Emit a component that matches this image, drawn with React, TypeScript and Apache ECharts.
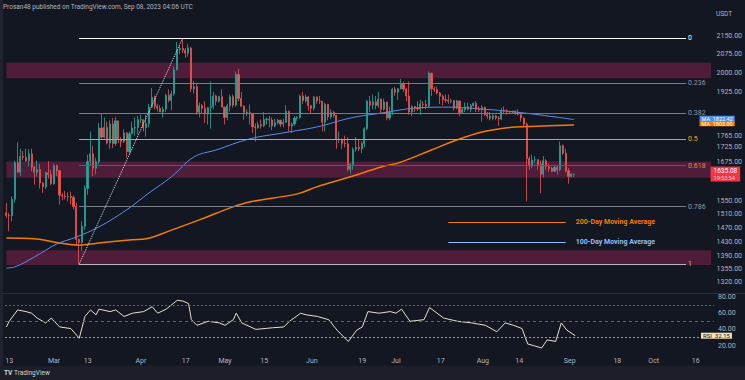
import React, { useEffect, useRef } from "react";
import * as echarts from "echarts";

// ---------- categories (daily, 2023) ----------
const START_MONTH = 1; // February (0-based)
const START_DAY = 12;
const DAY_COUNT = 253;

// ---------- daily candles from Feb 12: [open, high, low, close] ----------
const candles: [number, number, number, number][] = [
  // Feb 12 - 28
  [1515, 1545, 1500, 1507], [1507, 1515, 1461, 1506], [1506, 1565, 1490, 1556], [1556, 1680, 1546, 1673],
  [1673, 1742, 1640, 1642], [1642, 1720, 1630, 1694], [1694, 1712, 1681, 1691], [1691, 1720, 1675, 1680],
  [1680, 1719, 1661, 1703], [1703, 1720, 1645, 1659], [1659, 1662, 1602, 1642], [1642, 1680, 1627, 1651],
  [1651, 1669, 1590, 1607], [1607, 1611, 1576, 1595], [1595, 1644, 1588, 1640], [1640, 1678, 1621, 1634],
  [1634, 1650, 1600, 1605],
  // Mar
  [1605, 1670, 1601, 1663], [1663, 1667, 1630, 1647], [1647, 1648, 1540, 1569], [1569, 1575, 1553, 1566],
  [1566, 1582, 1556, 1564], [1564, 1578, 1550, 1565], [1565, 1580, 1540, 1562], [1562, 1568, 1525, 1534],
  [1534, 1545, 1420, 1437], [1437, 1440, 1368, 1429], [1429, 1490, 1405, 1475], [1475, 1600, 1465, 1590],
  [1590, 1700, 1570, 1677], [1677, 1780, 1662, 1703], [1703, 1730, 1630, 1655], [1655, 1690, 1635, 1677],
  [1677, 1810, 1668, 1792], [1792, 1843, 1755, 1760], [1760, 1830, 1755, 1795], [1795, 1815, 1735, 1740],
  [1740, 1820, 1720, 1807], [1807, 1828, 1722, 1738], [1738, 1832, 1730, 1818], [1818, 1818, 1740, 1752],
  [1752, 1760, 1725, 1745], [1745, 1788, 1740, 1775], [1775, 1778, 1690, 1710], [1710, 1780, 1700, 1772],
  [1772, 1815, 1770, 1792], [1792, 1830, 1765, 1794], [1794, 1835, 1770, 1822],
  // Apr
  [1822, 1840, 1810, 1822], [1822, 1822, 1780, 1793], [1793, 1840, 1762, 1808], [1808, 1880, 1795, 1868],
  [1868, 1940, 1866, 1905], [1905, 1912, 1860, 1871], [1871, 1880, 1852, 1864], [1864, 1875, 1850, 1850],
  [1850, 1870, 1830, 1860], [1860, 1918, 1850, 1912], [1912, 1935, 1886, 1893], [1893, 1930, 1856, 1918],
  [1918, 2025, 1910, 2011], [2011, 2125, 2010, 2094], [2094, 2110, 2075, 2099], [2099, 2141, 2080, 2091],
  [2091, 2100, 2060, 2079], [2079, 2117, 2065, 2100], [2100, 2105, 1925, 1937], [1937, 1968, 1920, 1945],
  [1945, 1960, 1840, 1849], [1849, 1885, 1830, 1873], [1873, 1880, 1845, 1864], [1864, 1890, 1810, 1843],
  [1843, 1868, 1805, 1866], [1866, 1965, 1790, 1870], [1870, 1925, 1860, 1910], [1910, 1915, 1875, 1890],
  [1890, 1910, 1885, 1907], [1907, 1935, 1868, 1868],
  // May
  [1868, 1870, 1805, 1830], [1830, 1880, 1820, 1873], [1873, 1915, 1852, 1907], [1907, 1915, 1866, 1876],
  [1876, 2005, 1870, 1993], [1993, 2015, 1890, 1900], [1900, 1925, 1870, 1871], [1871, 1875, 1822, 1848],
  [1848, 1860, 1835, 1849], [1849, 1878, 1805, 1843], [1843, 1845, 1775, 1797], [1797, 1808, 1745, 1793],
  [1793, 1815, 1790, 1804], [1804, 1823, 1790, 1800], [1800, 1850, 1795, 1823], [1823, 1830, 1805, 1824],
  [1824, 1835, 1795, 1821], [1821, 1830, 1785, 1800], [1800, 1825, 1795, 1811], [1811, 1825, 1805, 1820],
  [1820, 1822, 1796, 1806], [1806, 1825, 1795, 1813], [1813, 1875, 1810, 1853], [1853, 1855, 1780, 1799],
  [1799, 1812, 1775, 1807], [1807, 1835, 1800, 1828], [1828, 1835, 1818, 1830], [1830, 1915, 1825, 1910],
  [1910, 1925, 1880, 1892], [1892, 1915, 1885, 1906], [1906, 1910, 1855, 1873],
  // Jun
  [1873, 1875, 1845, 1864], [1864, 1910, 1855, 1906], [1906, 1908, 1880, 1891], [1891, 1910, 1880, 1890],
  [1890, 1890, 1780, 1813], [1813, 1885, 1780, 1878], [1878, 1880, 1820, 1833], [1833, 1860, 1825, 1848],
  [1848, 1855, 1830, 1838], [1838, 1840, 1720, 1752], [1752, 1780, 1740, 1752], [1752, 1755, 1720, 1739],
  [1739, 1765, 1725, 1737], [1737, 1760, 1645, 1652], [1652, 1672, 1638, 1667], [1667, 1725, 1650, 1718],
  [1718, 1760, 1710, 1725], [1725, 1750, 1712, 1720], [1720, 1745, 1705, 1738], [1738, 1795, 1725, 1790],
  [1790, 1895, 1785, 1890], [1890, 1910, 1850, 1875], [1875, 1915, 1860, 1888], [1888, 1910, 1860, 1874],
  [1874, 1925, 1865, 1898], [1898, 1900, 1845, 1860], [1860, 1900, 1855, 1887], [1887, 1888, 1820, 1828],
  [1828, 1870, 1820, 1850], [1850, 1940, 1840, 1935],
  // Jul
  [1935, 1945, 1910, 1924], [1924, 1940, 1895, 1937], [1937, 1975, 1935, 1955], [1955, 1965, 1925, 1936],
  [1936, 1940, 1890, 1910], [1910, 1965, 1840, 1850], [1850, 1875, 1835, 1870], [1870, 1872, 1850, 1866],
  [1866, 1890, 1855, 1861], [1861, 1895, 1840, 1880], [1880, 1890, 1862, 1878], [1878, 1895, 1860, 1872],
  [1872, 2005, 1865, 1998], [1998, 2000, 1910, 1937], [1937, 1945, 1925, 1933], [1933, 1945, 1915, 1921],
  [1921, 1925, 1880, 1909], [1909, 1915, 1875, 1896], [1896, 1915, 1885, 1894], [1894, 1915, 1880, 1890],
  [1890, 1900, 1882, 1892], [1892, 1895, 1855, 1864], [1864, 1895, 1860, 1891], [1891, 1892, 1835, 1848],
  [1848, 1865, 1845, 1859], [1859, 1885, 1850, 1869], [1869, 1885, 1855, 1860], [1860, 1880, 1850, 1873],
  [1873, 1885, 1870, 1882], [1882, 1890, 1850, 1860], [1860, 1870, 1850, 1857],
  // Aug
  [1857, 1875, 1815, 1868], [1868, 1870, 1835, 1840], [1840, 1850, 1825, 1835], [1835, 1850, 1820, 1827],
  [1827, 1842, 1820, 1836], [1836, 1840, 1822, 1828], [1828, 1835, 1800, 1825], [1825, 1865, 1820, 1855],
  [1855, 1870, 1842, 1853], [1853, 1860, 1840, 1851], [1851, 1855, 1843, 1850], [1850, 1855, 1845, 1853],
  [1853, 1856, 1840, 1846], [1846, 1860, 1838, 1841], [1841, 1845, 1815, 1828], [1828, 1830, 1800, 1806],
  [1806, 1812, 1550, 1687], [1687, 1695, 1650, 1662], [1662, 1700, 1655, 1682], [1682, 1695, 1673, 1683],
  [1683, 1685, 1650, 1668], [1668, 1680, 1575, 1635], [1635, 1695, 1625, 1680], [1680, 1685, 1650, 1660],
  [1660, 1670, 1643, 1654], [1654, 1660, 1642, 1645], [1645, 1662, 1642, 1658], [1658, 1662, 1635, 1650],
  [1650, 1745, 1645, 1730], [1730, 1735, 1700, 1705], [1705, 1720, 1640, 1647],
  // Sep
  [1647, 1655, 1605, 1628], [1628, 1640, 1625, 1635], [1635, 1638, 1625, 1635.08],
];

// ---------- moving averages ----------
const ma100: [string, number][] = [
  ["02-12", 1358], ["02-15", 1361], ["02-22", 1388], ["03-02", 1424], ["03-09", 1444], ["03-17", 1473],
  ["03-27", 1524], ["04-04", 1576], ["04-12", 1627], ["04-20", 1692], ["04-28", 1716], ["05-10", 1754],
  ["05-22", 1775], ["06-03", 1796], ["06-15", 1828], ["06-26", 1846], ["07-09", 1865], ["07-20", 1868],
  ["08-01", 1861], ["08-13", 1850], ["08-25", 1835], ["09-03", 1822.42],
];
const ma200: [string, number][] = [
  ["02-12", 1441], ["02-22", 1439], ["03-03", 1427], ["03-10", 1421], ["03-17", 1427], ["03-29", 1436],
  ["04-03", 1439], ["04-12", 1464], ["04-22", 1494], ["05-04", 1533], ["05-10", 1548], ["05-27", 1573],
  ["06-03", 1595], ["06-15", 1627], ["06-26", 1659], ["07-03", 1675], ["07-14", 1716], ["07-23", 1750],
  ["08-01", 1778], ["08-07", 1789], ["08-13", 1796], ["08-25", 1800], ["09-03", 1803],
];

// ---------- RSI ----------
const rsi: [string, number][] = [
  ["02-12", 43], ["02-13", 50], ["02-16", 64], ["02-19", 62], ["02-21", 60], ["02-23", 54], ["02-26", 48],
  ["02-28", 54], ["03-03", 43], ["03-07", 41], ["03-10", 29], ["03-12", 56], ["03-14", 64], ["03-16", 58],
  ["03-17", 65], ["03-21", 62], ["03-23", 64], ["03-26", 56], ["03-29", 60], ["04-02", 62], ["04-05", 68],
  ["04-07", 60], ["04-10", 65], ["04-14", 76], ["04-16", 75], ["04-18", 72], ["04-19", 52], ["04-21", 45],
  ["04-25", 50], ["04-29", 48], ["05-01", 45], ["05-04", 52], ["05-05", 60], ["05-07", 48], ["05-12", 40],
  ["05-18", 42], ["05-22", 43], ["05-24", 50], ["05-28", 60], ["05-30", 58], ["06-03", 56], ["06-07", 52],
  ["06-10", 39], ["06-14", 25], ["06-17", 39], ["06-19", 43], ["06-21", 62], ["06-25", 60], ["06-29", 62],
  ["07-01", 60], ["07-03", 65], ["07-06", 50], ["07-11", 52], ["07-13", 67], ["07-18", 54], ["07-23", 50],
  ["07-28", 48], ["08-02", 45], ["08-06", 37], ["08-09", 48], ["08-12", 45], ["08-15", 41], ["08-17", 22],
  ["08-19", 20], ["08-22", 17], ["08-24", 27], ["08-27", 25], ["08-29", 48], ["08-31", 39], ["09-03", 32.15],
];

// ---------- levels ----------
const fibLowDate = "03-10";
const fibHighDate = "04-16";
const fibEndDate = "10-13";
const fibLow = 1368;
const fibHigh = 2141;
const fibRatios = [0, 0.236, 0.382, 0.5, 0.618, 0.786, 1];
const fibColors = ["#ffffff", "#787b86", "#787b86", "#f39c12", "#a8431a", "#787b86", "#b2b5be"];
const fibLabelColors = ["#ffffff", "#9598a1", "#9598a1", "#f5a623", "#f08c35", "#9598a1", "#b2b5be"];
const zones: [number, number][] = [[1978, 2040], [1624, 1677], [1366, 1407]];
const lastPrice = 1635.08;
const lastRsi = 32.15;

// ---------- annotations ----------
const legendStart = "07-20";
const legendEnd = "08-31";
const legend200Price = 1487;
const legend100Price = 1430;

// ---------- axis ticks ----------
const priceMin = 1292.4;
const priceMax = 2211.3;
const priceTicks = [2150, 2075, 2000, 1925, 1765, 1725, 1675, 1550, 1510, 1470, 1430, 1390, 1355, 1320];
const rsiTicks = [20, 40, 60, 80];
const xTickDates = ["02-13", "03-01", "03-13", "04-01", "04-17", "05-01", "05-15", "06-01", "06-19", "07-01", "07-17", "08-01", "08-14", "09-01", "09-18", "10-01", "10-16"];
const xTickLabels = ["13", "Mar", "13", "Apr", "17", "May", "15", "Jun", "19", "Jul", "17", "Aug", "14", "Sep", "18", "Oct", "16"];

const FONT = "Roboto, 'Liberation Sans', sans-serif";
const L = Math.log;
const HIDDEN_LINE = { color: "rgba(0,0,0,0)", width: 0 };

function pad(n: number) {
  return String(n).padStart(2, "0");
}

function buildOption() {
  const cats: string[] = [];
  for (let i = 0; i < DAY_COUNT; i++) {
    const d = new Date(Date.UTC(2023, START_MONTH, START_DAY + i));
    cats.push(`${pad(d.getUTCMonth() + 1)}-${pad(d.getUTCDate())}`);
  }
  const tickMap: Record<string, string> = {};
  xTickDates.forEach((d, i) => (tickMap[d] = xTickLabels[i]));

  const candleData = candles.map(([o, h, l, c]) => [L(o), L(c), L(l), L(h)]);

  const fibLines = fibRatios.map((r, i) => {
    const p = fibHigh - r * (fibHigh - fibLow);
    return [
      {
        coord: [fibLowDate, L(p)],
        lineStyle: { color: fibColors[i], width: 1, type: "solid" },
        label: {
          show: true,
          position: "end",
          formatter: String(r),
          color: fibLabelColors[i],
          fontSize: 7,
          distance: 2,
        },
      },
      { coord: [fibEndDate, L(p)] },
    ];
  });

  const ma100Last = ma100[ma100.length - 1][1];
  const ma200Last = ma200[ma200.length - 1][1];

  const maBadge = (value: number, bg: string) => ({
    yAxis: L(value),
    lineStyle: HIDDEN_LINE,
    label: {
      show: true,
      position: "end",
      distance: [-13, 0],
      formatter: `MA  ${value.toFixed(2)}`,
      backgroundColor: bg,
      color: "#ffffff",
      fontSize: 5.5,
      lineHeight: 5.5,
      padding: [0, 2],
    },
  });

  return {
    animation: false,
    backgroundColor: "#131722",
    textStyle: { fontFamily: FONT },
    grid: [
      { left: 5, right: 31, top: 22, height: 271 },
      { left: 5, right: 31, top: 293, height: 59 },
    ],
    xAxis: [
      {
        type: "category",
        gridIndex: 0,
        data: cats,
        axisLine: { show: false },
        axisTick: { show: false },
        axisLabel: { show: false },
        splitLine: { show: false },
      },
      {
        type: "category",
        gridIndex: 1,
        data: cats,
        axisLine: { show: false },
        axisTick: { show: false },
        splitLine: { show: false },
        axisLabel: {
          interval: (_i: number, v: string) => tickMap[v] !== undefined,
          formatter: (v: string) => tickMap[v] || "",
          color: "#b2b5be",
          fontSize: 7,
          margin: 5,
        },
      },
    ],
    yAxis: [
      {
        type: "value",
        gridIndex: 0,
        position: "right",
        min: L(priceMin),
        max: L(priceMax),
        axisLine: { show: false },
        axisTick: { show: false },
        splitLine: { show: false },
        axisLabel: {
          customValues: priceTicks.map(L),
          formatter: (v: number) => Math.exp(v).toFixed(2),
          color: "#b2b5be",
          fontSize: 7,
          margin: 4,
        },
      },
      {
        type: "value",
        gridIndex: 1,
        position: "right",
        min: 12,
        max: 85,
        axisLine: { show: false },
        axisTick: { show: false },
        splitLine: { show: false },
        axisLabel: {
          customValues: rsiTicks,
          formatter: (v: number) => v.toFixed(2),
          color: "#b2b5be",
          fontSize: 7,
          margin: 4,
        },
      },
    ],
    series: [
      {
        type: "candlestick",
        xAxisIndex: 0,
        yAxisIndex: 0,
        data: candleData,
        barWidth: 1.6,
        itemStyle: {
          color: "#26a69a",
          color0: "#ef5350",
          borderColor: "#26a69a",
          borderColor0: "#ef5350",
          borderWidth: 0.8,
        },
        z: 4,
        markArea: {
          silent: true,
          itemStyle: { color: "rgba(139,33,82,0.5)" },
          data: zones.map(([lo, hi]) => [
            { xAxis: cats[0], yAxis: L(hi) },
            { xAxis: cats[cats.length - 1], yAxis: L(lo) },
          ]),
        },
        markLine: {
          silent: true,
          symbol: ["none", "none"],
          data: [
            ...fibLines,
            [
              {
                coord: [fibLowDate, L(fibLow)],
                lineStyle: { color: "#e0e3eb", width: 1, type: "dotted" },
                label: { show: false },
              },
              { coord: [fibHighDate, L(fibHigh)] },
            ],
            {
              yAxis: L(lastPrice),
              lineStyle: HIDDEN_LINE,
              label: {
                show: true,
                position: "end",
                distance: [-2, 0],
                formatter: `{a|${lastPrice.toFixed(2)}}\n{b|19:53:54}`,
                backgroundColor: "#f23645",
                padding: [1, 3],
                rich: {
                  a: { color: "#ffffff", fontSize: 6.5, lineHeight: 7, fontFamily: FONT },
                  b: { color: "#ffd6d6", fontSize: 5.5, lineHeight: 6, fontFamily: FONT },
                },
              },
            },
          ],
        },
      },
      {
        type: "line",
        name: "MA200",
        xAxisIndex: 0,
        yAxisIndex: 0,
        data: ma200.map(([d, v]) => [d, L(v)]),
        showSymbol: false,
        smooth: 0.4,
        lineStyle: { color: "#f57c00", width: 1.5 },
        z: 3,
        markLine: {
          silent: true,
          symbol: ["none", "none"],
          data: [
            maBadge(ma200Last, "#f57c00"),
            [
              {
                coord: [legendStart, L(legend200Price)],
                lineStyle: { color: "#f57c00", width: 1.2, type: "solid" },
                label: {
                  show: true,
                  position: "end",
                  distance: 10,
                  formatter: "200-Day Moving Average",
                  color: "#f57c00",
                  fontSize: 7,
                  fontWeight: "bold",
                },
              },
              { coord: [legendEnd, L(legend200Price)] },
            ],
          ],
        },
      },
      {
        type: "line",
        name: "MA100",
        xAxisIndex: 0,
        yAxisIndex: 0,
        data: ma100.map(([d, v]) => [d, L(v)]),
        showSymbol: false,
        smooth: 0.4,
        lineStyle: { color: "#5b8def", width: 1 },
        z: 3,
        markLine: {
          silent: true,
          symbol: ["none", "none"],
          data: [
            maBadge(ma100Last, "#4f8ff0"),
            [
              {
                coord: [legendStart, L(legend100Price)],
                lineStyle: { color: "#90bff9", width: 1.2, type: "solid" },
                label: {
                  show: true,
                  position: "end",
                  distance: 10,
                  formatter: "100-Day Moving Average",
                  color: "#90bff9",
                  fontSize: 7,
                  fontWeight: "bold",
                },
              },
              { coord: [legendEnd, L(legend100Price)] },
            ],
          ],
        },
      },
      {
        type: "line",
        name: "RSI",
        xAxisIndex: 1,
        yAxisIndex: 1,
        data: rsi,
        showSymbol: false,
        lineStyle: { color: "#e8e0cc", width: 1 },
        markLine: {
          silent: true,
          symbol: ["none", "none"],
          data: [
            { yAxis: 70, lineStyle: { color: "#5d606b", type: [2, 2], width: 1 }, label: { show: false } },
            { yAxis: 50, lineStyle: { color: "#5d606b", type: [3, 3], width: 1 }, label: { show: false } },
            { yAxis: 30, lineStyle: { color: "#9598a1", type: [2, 2], width: 1 }, label: { show: false } },
            {
              yAxis: lastRsi,
              lineStyle: HIDDEN_LINE,
              label: {
                show: true,
                position: "end",
                distance: [-13, 0],
                formatter: `RSI  ${lastRsi.toFixed(2)}`,
                backgroundColor: "#f7e1b5",
                color: "#131722",
                fontSize: 6,
                lineHeight: 6,
                padding: [0, 2],
              },
            },
          ],
        },
      },
    ],
    graphic: [
      { type: "rect", shape: { x: 0, y: 0, width: 3, height: 380 }, style: { fill: "#1f232e" }, z: 50 },
      { type: "rect", shape: { x: 0, y: 366, width: 745, height: 14 }, style: { fill: "#1c1f27" }, z: 50 },
      { type: "line", shape: { x1: 3, y1: 293.5, x2: 745, y2: 293.5 }, style: { stroke: "#2a2e39", lineWidth: 1 }, z: 50 },
      {
        type: "text",
        x: 3,
        y: 3,
        z: 60,
        style: {
          text: "Prosan48 published on TradingView.com, Sep 08, 2023 04:06 UTC",
          fill: "#b2b5be",
          fontSize: 6.5,
          fontFamily: FONT,
        },
      },
      {
        type: "text",
        x: 716,
        y: 10,
        z: 60,
        style: { text: "USDT", fill: "#b2b5be", fontSize: 6.5, fontFamily: FONT },
      },
      {
        type: "text",
        x: 4,
        y: 369,
        z: 60,
        style: { text: "TV", fill: "#d1d4dc", fontSize: 6.5, fontWeight: "bold", fontFamily: FONT },
      },
      {
        type: "text",
        x: 14,
        y: 369,
        z: 60,
        style: { text: "TradingView", fill: "#d1d4dc", fontSize: 6.5, fontFamily: FONT },
      },
    ],
  };
}

export default function App() {
  const ref = useRef<HTMLDivElement>(null);
  useEffect(() => {
    document.body.style.margin = "0";
    const chart = echarts.init(ref.current!, undefined, { renderer: "svg" });
    chart.setOption(buildOption() as any);
    return () => chart.dispose();
  }, []);
  return (
    <div
      ref={ref}
      style={{ width: 745, height: 380, position: "fixed", left: 0, top: 0 }}
    />
  );
}
